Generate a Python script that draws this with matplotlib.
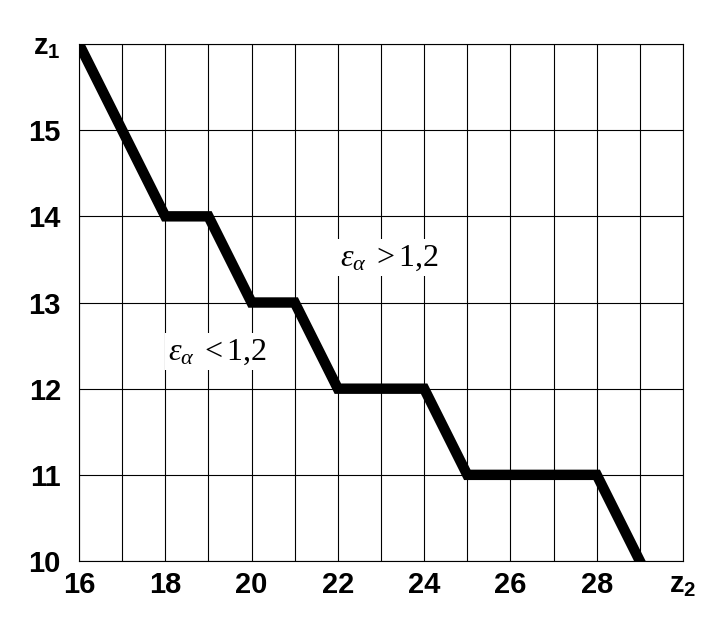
import matplotlib.pyplot as plt

plt.rcParams['mathtext.fontset'] = 'custom'
plt.rcParams['mathtext.rm'] = 'Liberation Serif'
plt.rcParams['mathtext.it'] = 'Liberation Serif:italic'
plt.rcParams['mathtext.bf'] = 'Liberation Sans:bold'

# boundary line z1 vs z2
z2 = [16, 18, 19, 20, 21, 22, 24, 25, 28, 29]
z1 = [16, 14, 14, 13, 13, 12, 12, 11, 11, 10]

x_ticks = [16, 18, 20, 22, 24, 26, 28, 30]
x_labels = ['16', '18', '20', '22', '24', '26', '28', r'$\mathbf{z_2}$']
y_ticks = [10, 11, 12, 13, 14, 15, 16]
y_labels = ['10', '11', '12', '13', '14', '15', r'$\mathbf{z_1}$']

fig = plt.figure(figsize=(7.2, 6.34), dpi=100)
ax = fig.add_axes([0.1097, 0.1151, 0.8389, 0.8155])

ax.set_xlim(16, 30)
ax.set_ylim(10, 16)
ax.set_xticks(range(16, 31), minor=True)
ax.set_xticks(x_ticks)
ax.set_xticklabels(x_labels)
ax.set_yticks(y_ticks)
ax.set_yticklabels(y_labels)
ax.grid(True, which='both', color='black', linewidth=0.8)
ax.set_axisbelow(True)

for lab in ax.get_xticklabels() + ax.get_yticklabels():
    lab.set_family('Liberation Sans')
    lab.set_fontweight('bold')
    lab.set_fontsize(21)
ax.tick_params(axis='both', which='both', length=0)
ax.tick_params(axis='x', pad=7)
ax.tick_params(axis='y', pad=13)

for s in ax.spines.values():
    s.set_linewidth(0.8)

ax.plot(z2, z1, color='black', linewidth=7.5, solid_joinstyle='miter', zorder=3)

box = dict(facecolor='white', edgecolor='none', pad=2)
ax.text(23.2, 13.52, r'$\varepsilon_\alpha\;> 1{,}2$', fontsize=23,
        ha='center', va='center', bbox=box, zorder=4)
ax.text(19.22, 12.43, r'$\varepsilon_\alpha\;< 1{,}2$', fontsize=23,
        ha='center', va='center', bbox=box, zorder=4)

fig.savefig('out.png', dpi=100)
